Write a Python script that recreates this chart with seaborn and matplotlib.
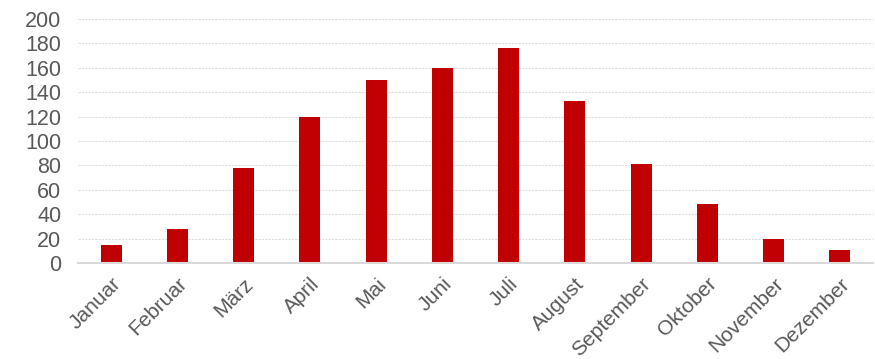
import matplotlib
matplotlib.use("Agg")
import matplotlib.pyplot as plt
import seaborn as sns
import pandas as pd

months = ["Januar", "Februar", "März", "April", "Mai", "Juni", "Juli",
          "August", "September", "Oktober", "November", "Dezember"]
values = [15, 28, 78, 120, 150, 160, 176, 133, 81, 48, 20, 11]
y_ticks = [0, 20, 40, 60, 80, 100, 120, 140, 160, 180, 200]

sns.set_theme(style="white")
plt.rcParams['font.family'] = ['Liberation Sans', 'DejaVu Sans']

df = pd.DataFrame({"Monat": months, "Wert": values})

fig = plt.figure(figsize=(8.75, 3.59), dpi=100)
ax = fig.add_axes([78/875, 1 - 263/359, (873-78)/875, (263-19)/359])

sns.barplot(data=df, x="Monat", y="Wert", color="#C00000", width=0.32,
            saturation=1, ax=ax, edgecolor="none")

ax.set_ylim(0, 200)
ax.set_xlim(-0.5, len(months) - 0.5)
ax.set_yticks(y_ticks)
ax.set_xlabel("")
ax.set_ylabel("")
ax.yaxis.grid(True, color="#dedede", linestyle=(0, (2, 1)), linewidth=0.8)
ax.set_axisbelow(True)
for s in ["top", "right", "left"]:
    ax.spines[s].set_visible(False)
ax.spines["bottom"].set_color("#d9d9d9")
ax.spines["bottom"].set_linewidth(1.5)
ax.tick_params(axis="y", length=0, pad=12, labelsize=15.5, labelcolor="#595959")
ax.tick_params(axis="x", length=0, pad=8, labelsize=15, labelcolor="#595959")
plt.setp(ax.get_xticklabels(), rotation=45, ha="right", rotation_mode="anchor")

fig.savefig("out.png", dpi=100)
